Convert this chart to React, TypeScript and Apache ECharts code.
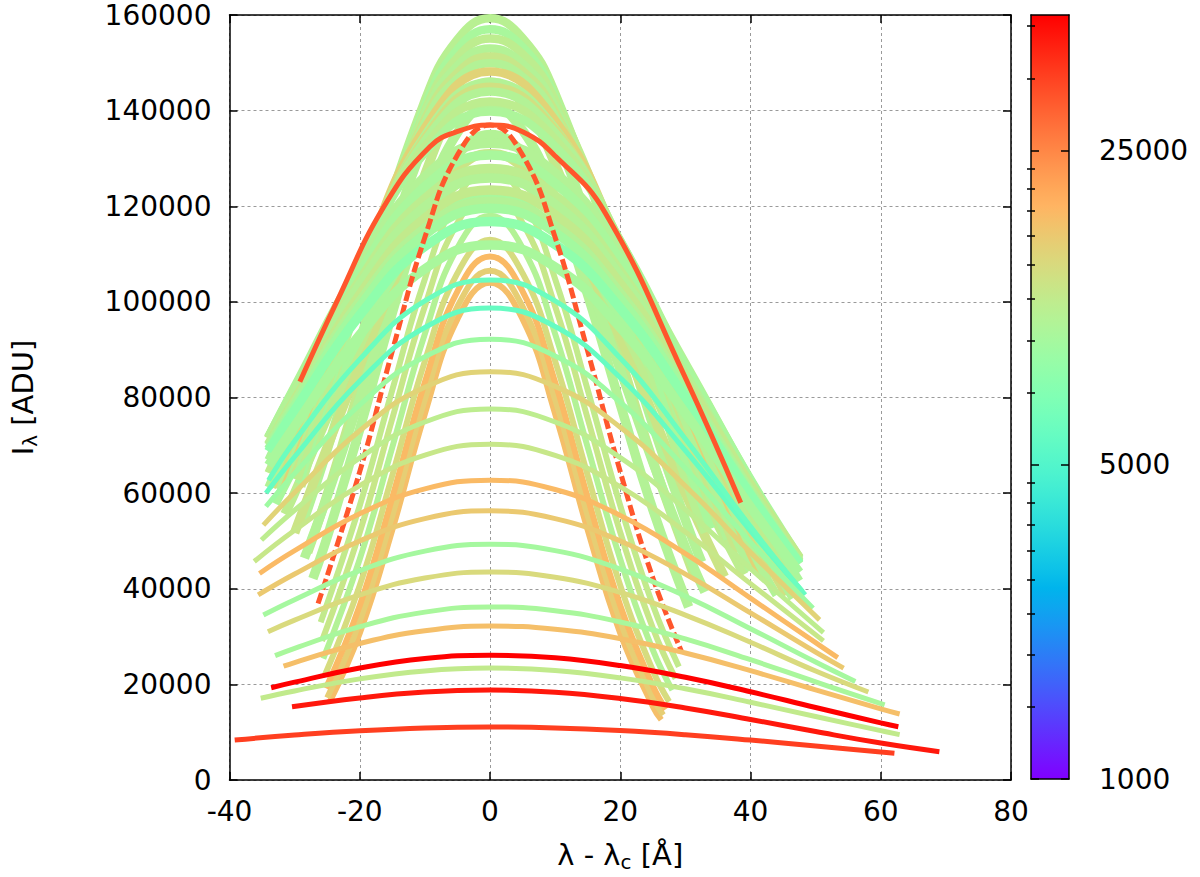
import React, { useEffect, useRef } from "react";
import * as echarts from "echarts";

// ---- axes / colour scale ----
const X_MIN = -40, X_MAX = 80, X_STEP = 20;
const Y_MIN = 0, Y_MAX = 160000, Y_STEP = 20000;
const CB_MIN = 1000, CB_MAX = 50000, CB_BASE = 5;
const colorbarLabels = [1000, 5000, 25000];
const colorbarMinorTicks = [1444, 1889, 2333, 2778, 3222, 3667, 4111, 4556, 7222, 9444, 11667, 13889, 16111, 18333, 20556, 22778, 36111, 47222];

// ---- narrow profiles (inner wedge) ----
const narrowExposure = [17400, 15500, 18100, 13700, 10500, 12200, 11800];
const narrowProfiles = [
  [[-24.6, 16400], [-20, 30700], [-15, 52300], [-10, 76600], [-5, 96400], [0, 104000], [5, 96400], [10, 76600], [15, 52300], [20, 30700], [25, 15400], [26.3, 12600]],
  [[-25, 17200], [-20, 33200], [-15, 55300], [-10, 79600], [-5, 99000], [0, 106500], [5, 99000], [10, 79600], [15, 55300], [20, 33200], [25, 17200], [26.6, 13600]],
  [[-25.2, 19200], [-20, 36500], [-15, 59100], [-10, 83200], [-5, 102200], [0, 109500], [5, 102200], [10, 83200], [15, 59100], [20, 36500], [25, 19700], [27, 14800]],
  [[-25.4, 21800], [-20, 40700], [-15, 63700], [-10, 87600], [-5, 106000], [0, 113000], [5, 106000], [10, 87600], [15, 63700], [20, 40700], [25, 22900], [27.5, 16400]],
  [[-25.6, 25400], [-20, 46200], [-15, 69600], [-10, 93300], [-5, 111300], [0, 118000], [5, 111300], [10, 93300], [15, 69600], [20, 46200], [25, 27200], [28, 18800]],
  [[-25.8, 29100], [-20, 51800], [-15, 75600], [-10, 99100], [-5, 116500], [0, 123000], [5, 116500], [10, 99100], [15, 75600], [20, 51800], [25, 31800], [28.5, 21200]],
  [[-26, 33000], [-20, 57400], [-15, 81600], [-10, 104800], [-5, 121700], [0, 128000], [5, 121700], [10, 104800], [15, 81600], [20, 57400], [25, 36600], [29, 23700]],
];

// ---- middle-width profiles ----
const middleExposure = [10500, 11800, 10500, 10500, 12600, 11300, 9700];
const middleProfiles = [
  [[-27.2, 42100], [-25, 50800], [-20, 73400], [-15, 97700], [-10, 119800], [-5, 135400], [0, 141000], [5, 135900], [10, 121800], [15, 101500], [20, 78600], [25, 56600], [30.5, 36200]],
  [[-28, 47600], [-25, 59700], [-20, 82400], [-15, 105800], [-10, 126600], [-5, 140900], [0, 146000], [5, 141500], [10, 128800], [15, 110200], [20, 88500], [25, 66800], [31.5, 42200]],
  [[-28.7, 53900], [-25, 69100], [-20, 91600], [-15, 114000], [-10, 133300], [-5, 146300], [0, 151000], [5, 146800], [10, 134800], [15, 117000], [20, 95900], [25, 74300], [30, 54400], [32.5, 45600]],
  [[-28.5, 46400], [-25, 59300], [-20, 79800], [-15, 100400], [-10, 118400], [-5, 130600], [0, 135000], [5, 131200], [10, 120500], [15, 104600], [20, 85800], [25, 66500], [30, 48700], [33, 39300]],
  [[-30, 51700], [-20, 86700], [-10, 118100], [-5, 127700], [0, 131000], [5, 128200], [10, 120100], [20, 92600], [30, 60000], [36, 42500]],
  [[-31.5, 55600], [-30, 60000], [-20, 91000], [-10, 116900], [0, 127000], [10, 118300], [20, 95500], [30, 66900], [39, 43000]],
  [[-33, 57800], [-30, 65800], [-20, 92700], [-10, 113900], [0, 122000], [10, 115200], [20, 97000], [30, 72700], [40, 48700], [43, 42200]],
];

// ---- top of the fan ----
const topExposure = [10900, 9700, 11300, 10500, 12200, 10500, 14900, 10500, 13200, 10500, 11300, 10000];
const topProfiles = [
  [[-29, 61400], [-20, 101200], [-10, 142200], [-5, 154900], [0, 159300], [5, 155200], [10, 143700], [20, 105400], [30, 62900], [33, 51700]],
  [[-29.3, 62000], [-20, 101900], [-10, 140900], [-5, 152800], [0, 157000], [5, 153300], [10, 142800], [20, 107600], [30, 67100], [34, 52600]],
  [[-29.6, 62800], [-20, 102600], [-10, 139900], [-5, 151100], [0, 155100], [5, 151800], [10, 142200], [20, 109600], [30, 71000], [35, 53600]],
  [[-30, 65300], [-20, 104800], [-10, 139200], [-5, 149400], [0, 153000], [5, 149800], [10, 140800], [20, 109600], [30, 72300], [36.5, 50400]],
  [[-31, 63400], [-20, 105300], [-10, 138200], [-5, 147900], [0, 151300], [5, 148300], [10, 139700], [20, 109900], [30, 73700], [38, 47700]],
  [[-32, 61600], [-30, 68600], [-20, 105900], [-10, 137400], [-5, 146700], [0, 149900], [5, 147100], [10, 138800], [20, 110200], [30, 75000], [40, 43800]],
  [[-32.5, 61500], [-30, 70000], [-20, 106200], [-10, 136400], [0, 148200], [10, 138000], [20, 111500], [30, 78100], [40, 47400], [42, 42200]],
  [[-33, 61100], [-30, 71100], [-20, 106000], [-10, 134800], [0, 146000], [10, 136300], [20, 111000], [30, 78800], [40, 48700], [44, 38700]],
  [[-33.5, 61200], [-30, 72600], [-20, 106600], [-10, 134300], [0, 145000], [10, 136000], [20, 112300], [30, 81700], [40, 52300], [45.5, 38700]],
  [[-34, 61200], [-30, 74000], [-20, 107100], [-10, 133700], [0, 144000], [10, 135400], [20, 112600], [30, 82800], [40, 53800], [46.5, 38000]],
  [[-34, 64200], [-30, 76500], [-20, 107900], [-10, 132500], [0, 141900], [10, 134000], [20, 112800], [30, 84600], [40, 56600], [47, 39900]],
  [[-34, 66900], [-30, 78700], [-20, 108300], [-10, 131200], [0, 139800], [10, 132500], [20, 112700], [30, 86200], [40, 59200], [47.5, 41600]],
];

// ---- broad profiles forming the flanks ----
const flankExposure = [10500, 9700, 11300, 10500, 11800, 10500, 9300, 7950, 9700];
const flankProfiles = [
  [[-34, 71600], [-30, 82100], [-20, 107400], [-10, 126200], [0, 133200], [10, 127000], [20, 110200], [30, 87000], [40, 62500], [47.5, 45800]],
  [[-34, 71600], [-30, 81800], [-20, 106100], [-10, 124100], [0, 130700], [10, 124800], [20, 108800], [30, 86500], [40, 62700], [47.5, 46400]],
  [[-34, 71400], [-30, 81300], [-20, 104500], [-10, 121600], [0, 127900], [10, 122200], [20, 106400], [30, 84600], [40, 61400], [47.5, 45400]],
  [[-34, 71600], [-30, 81100], [-20, 103600], [-10, 119900], [0, 125900], [10, 120400], [20, 105400], [30, 84300], [40, 61700], [47.5, 46100]],
  [[-34, 70200], [-30, 79500], [-20, 101500], [-10, 117500], [0, 123400], [10, 118200], [20, 103800], [30, 83600], [40, 61800], [47.5, 46500]],
  [[-34, 70000], [-30, 79000], [-20, 100100], [-10, 115400], [0, 121000], [10, 115900], [20, 101800], [30, 82000], [40, 60600], [47.5, 45600]],
  [[-34, 69200], [-30, 78100], [-20, 99000], [-10, 114100], [0, 119600], [10, 114500], [20, 100600], [30, 81000], [40, 59900], [47.5, 45100]],
  [[-34, 68700], [-30, 77300], [-20, 97200], [-10, 111600], [0, 116800], [10, 112000], [20, 98700], [30, 80000], [40, 59600], [47.5, 45300]],
  [[-34, 65800], [-30, 74000], [-20, 93100], [-10, 106900], [0, 111900], [10, 107300], [20, 94600], [30, 76700], [40, 57100], [47.5, 43400]],
];

// ---- the two red-orange profiles ----
const redExposure = 32500;
const redWideProfile = [[-29.2, 83300], [-23.4, 100400], [-16.3, 119900], [-9.2, 132500], [-4.6, 135800], [0, 137000], [5, 135600], [10.1, 130400], [17.7, 118600], [29.8, 84700], [38.5, 58000]];
const redNarrowProfile = [[-26.4, 36900], [-20, 64500], [-15, 89700], [-10, 113500], [-5, 130700], [0, 137000], [5, 130700], [10, 113500], [15, 89700], [20, 64500], [25, 42300], [29.4, 26900]];

// ---- cyan profiles ----
const cyanExposure = [5820, 6060];
const cyanProfiles = [
  [[-34.4, 60000], [-30, 67610], [-20, 83440], [-10, 94650], [0, 98700], [10, 94850], [20, 84140], [30, 68890], [40, 52110], [48.4, 38700]],
  [[-34, 62700], [-30, 70920], [-20, 87970], [-10, 100200], [0, 104600], [10, 100200], [20, 88250], [30, 71340], [40, 52990], [48, 39400]],
];

// ---- low, broad profiles ----
const lowExposure = [8950, 14900, 11300, 12200, 18100, 16100, 9400, 14000, 9700, 17400, 11700, 50000, 44400, 36600];
const lowProfiles = [
  [[-34.4, 57200], [-30, 64130], [-20, 78460], [-10, 88510], [0, 92200], [10, 88700], [20, 79020], [30, 65150], [40, 49740], [49.6, 35900]],
  [[-34.8, 53300], [-30, 60120], [-20, 73060], [-10, 82150], [0, 85400], [10, 82330], [20, 73790], [30, 61490], [40, 47610], [50.6, 33500]],
  [[-35.1, 50200], [-30, 56420], [-20, 67360], [-10, 74880], [0, 77600], [10, 74880], [20, 67430], [30, 56570], [40, 44230], [51.2, 30800]],
  [[-36.2, 45700], [-30, 52230], [-20, 61570], [-10, 67950], [0, 70200], [10, 67880], [20, 61350], [30, 51880], [40, 41070], [51.2, 29100]],
  [[-35.4, 43200], [-30, 47970], [-20, 55680], [-10, 60880], [0, 62700], [10, 60760], [20, 55330], [30, 47340], [40, 38030], [50, 28720], [53.4, 25600]],
  [[-35.6, 38700], [-30, 43070], [-20, 50000], [-10, 54670], [0, 56300], [10, 54670], [20, 50000], [30, 43070], [40, 34960], [50, 26740], [54.3, 23400]],
  [[-34.8, 34500], [-30, 37710], [-20, 43780], [-10, 47870], [0, 49300], [10, 47970], [20, 44120], [30, 38450], [40, 31650], [50, 24670], [56.1, 20600]],
  [[-34.1, 31000], [-30, 33450], [-20, 38720], [-10, 42240], [0, 43500], [10, 42410], [20, 39240], [30, 34500], [40, 28800], [50, 22790], [58.1, 18400]],
  [[-33, 26000], [-30, 27550], [-20, 32070], [-10, 35110], [0, 36200], [10, 35400], [20, 33050], [30, 29500], [40, 25160], [50, 20530], [60.6, 15700]],
  [[-31.7, 23800], [-30, 24570], [-20, 28560], [-10, 31230], [0, 32200], [10, 31520], [20, 29560], [30, 26560], [40, 22860], [50, 18840], [60, 14880], [62.9, 13800]],
  [[-35.2, 17100], [-30, 18630], [-20, 21150], [-10, 22820], [0, 23400], [10, 22880], [20, 21360], [30, 19070], [40, 16260], [50, 13270], [60, 10320], [62.9, 9500]],
  [[-33.6, 19300], [-30, 20460], [-20, 23410], [-10, 25400], [0, 26100], [10, 25550], [20, 23930], [30, 21480], [40, 18450], [50, 15160], [60, 11950], [62.7, 11150]],
  [[-30.4, 15300], [-20, 17160], [-10, 18390], [0, 18800], [10, 18350], [20, 17030], [30, 15060], [40, 12670], [50, 10130], [60, 7730], [69, 5920]],
  [[-39.2, 8370], [-30, 9400], [-20, 10310], [-10, 10900], [0, 11100], [10, 10900], [20, 10330], [30, 9460], [40, 8350], [50, 7110], [60, 5850], [62.1, 5580]],
];

// ---- helpers ----
const FONT = "DejaVu Sans";
const clamp = (v: number) => Math.max(0, Math.min(1, v));
// gnuplot rgbformulae 33,13,10
function paletteColor(t: number) {
  const tt = clamp(t);
  const r = clamp(Math.abs(2 * tt - 0.5));
  const g = clamp(Math.sin(Math.PI * tt));
  const b = clamp(Math.cos((Math.PI * tt) / 2));
  return `rgb(${Math.round(r * 255)},${Math.round(g * 255)},${Math.round(b * 255)})`;
}
const cbPos = (v: number) => Math.log(v / CB_MIN) / Math.log(CB_BASE);
const CB_TOP = cbPos(CB_MAX);
const exposureColor = (c: number) => paletteColor(cbPos(c) / CB_TOP);

function profileSeries(points: number[][], exposure: number, width: number, dashed = false) {
  return {
    type: "line",
    xAxisIndex: 0,
    yAxisIndex: 0,
    data: points,
    smooth: 0.45,
    symbol: "none",
    showSymbol: false,
    silent: true,
    lineStyle: { color: exposureColor(exposure), width, type: dashed ? [11, 4] : "solid", cap: "butt", join: "round" },
  };
}

export default function App() {
  const ref = useRef<HTMLDivElement>(null);
  useEffect(() => {
    if (!ref.current) return;
    const chart = echarts.init(ref.current, undefined, { renderer: "svg" });

    const series: any[] = [];
    narrowProfiles.forEach((p, i) => series.push(profileSeries(p, narrowExposure[i], 6)));
    middleProfiles.forEach((p, i) => series.push(profileSeries(p, middleExposure[i], 9.5)));
    topProfiles.forEach((p, i) => series.push(profileSeries(p, topExposure[i], 8.5)));
    flankProfiles.forEach((p, i) => series.push(profileSeries(p, flankExposure[i], 9.5)));
    series.push(profileSeries(redWideProfile, redExposure, 5));
    series.push(profileSeries(redNarrowProfile, redExposure, 5, true));
    cyanProfiles.forEach((p, i) => series.push(profileSeries(p, cyanExposure[i], 5)));
    lowProfiles.forEach((p, i) => series.push(profileSeries(p, lowExposure[i], 5)));

    const stops = [] as { offset: number; color: string }[];
    for (let k = 0; k <= 40; k++) stops.push({ offset: k / 40, color: paletteColor(k / 40) });
    series.push({
      type: "custom",
      xAxisIndex: 2,
      yAxisIndex: 2,
      silent: true,
      data: [[0, 0]],
      renderItem: (_p: any, api: any) => {
        const p0 = api.coord([0, 0]);
        const p1 = api.coord([1, CB_TOP]);
        return {
          type: "rect",
          shape: { x: p0[0], y: p1[1], width: p1[0] - p0[0], height: p0[1] - p1[1] },
          style: { fill: new echarts.graphic.LinearGradient(0, 1, 0, 0, stops) },
        };
      },
    });

    const black = { color: "#000", width: 1.5 };
    const labelStyle = { color: "#000", fontFamily: FONT, fontSize: 28 };
    const majorCb = colorbarLabels.map(cbPos);
    const minorCb = colorbarMinorTicks.map(cbPos);
    const cbFormatter = (v: number) => {
      const val = Math.round(CB_MIN * Math.pow(CB_BASE, v));
      return colorbarLabels.includes(val) ? String(val) : "";
    };

    chart.setOption({
      animation: false,
      textStyle: { fontFamily: FONT },
      grid: [
        { left: 224, right: 189, top: 15, bottom: 97 },
        { left: 1031, width: 38, top: 15, bottom: 98 },
      ],
      xAxis: [
        {
          type: "value", gridIndex: 0, min: X_MIN, max: X_MAX, interval: X_STEP, position: "bottom",
          axisLine: { onZero: false, lineStyle: black },
          axisTick: { inside: true, length: 8, lineStyle: black },
          axisLabel: { ...labelStyle, margin: 17 },
          splitLine: { show: true, lineStyle: { color: "#9a9a9a", width: 1, type: [3, 3] } },
          name: "{a|λ - λ}{s|c}{a| [Å]}",
          nameLocation: "middle",
          nameGap: 58,
          nameTextStyle: {
            rich: {
              a: { fontFamily: FONT, fontSize: 29, color: "#000" },
              s: { fontFamily: FONT, fontSize: 20, color: "#000", padding: [14, 0, 0, 0] },
            },
          },
        },
        {
          type: "value", gridIndex: 0, min: X_MIN, max: X_MAX, interval: X_STEP, position: "top",
          axisLine: { onZero: false, lineStyle: black },
          axisTick: { inside: true, length: 8, lineStyle: black },
          axisLabel: { show: false }, splitLine: { show: false },
        },
        {
          type: "value", gridIndex: 1, min: 0, max: 1, position: "bottom", z: 10,
          axisLine: { onZero: false, lineStyle: black }, axisTick: { show: false },
          axisLabel: { show: false }, splitLine: { show: false },
        },
        {
          type: "value", gridIndex: 1, min: 0, max: 1, position: "top", z: 10,
          axisLine: { onZero: false, lineStyle: black }, axisTick: { show: false },
          axisLabel: { show: false }, splitLine: { show: false },
        },
      ],
      yAxis: [
        {
          type: "value", gridIndex: 0, min: Y_MIN, max: Y_MAX, interval: Y_STEP, position: "left",
          axisLine: { onZero: false, lineStyle: black },
          axisTick: { inside: true, length: 8, lineStyle: black },
          axisLabel: { ...labelStyle, margin: 18, formatter: (v: number) => String(v) },
          splitLine: { show: true, lineStyle: { color: "#9a9a9a", width: 1, type: [3, 3] } },
          name: "{a|I}{s|λ}{a| [ADU]}",
          nameLocation: "middle",
          nameGap: 190,
          nameTextStyle: {
            rich: {
              a: { fontFamily: FONT, fontSize: 29, color: "#000" },
              s: { fontFamily: FONT, fontSize: 20, color: "#000", padding: [14, 0, 0, 0] },
            },
          },
        },
        {
          type: "value", gridIndex: 0, min: Y_MIN, max: Y_MAX, interval: Y_STEP, position: "right",
          axisLine: { onZero: false, lineStyle: black },
          axisTick: { inside: true, length: 8, lineStyle: black },
          axisLabel: { show: false }, splitLine: { show: false },
        },
        {
          type: "value", gridIndex: 1, min: 0, max: CB_TOP, interval: 1, position: "right", z: 10,
          axisLine: { onZero: false, lineStyle: black },
          axisTick: { inside: true, length: 8, lineStyle: black, customValues: majorCb },
          axisLabel: { ...labelStyle, margin: 30, customValues: majorCb, formatter: cbFormatter },
          splitLine: { show: false },
        },
        {
          type: "value", gridIndex: 1, min: 0, max: CB_TOP, interval: 10, position: "right", z: 10,
          axisLine: { show: false },
          axisTick: { inside: true, length: 4, lineStyle: black, customValues: minorCb },
          axisLabel: { show: false }, splitLine: { show: false },
        },
        {
          type: "value", gridIndex: 1, min: 0, max: CB_TOP, interval: 1, position: "left", z: 10,
          axisLine: { onZero: false, lineStyle: black },
          axisTick: { inside: true, length: 8, lineStyle: black, customValues: majorCb },
          axisLabel: { show: false }, splitLine: { show: false },
        },
        {
          type: "value", gridIndex: 1, min: 0, max: CB_TOP, interval: 10, position: "left", z: 10,
          axisLine: { show: false },
          axisTick: { inside: true, length: 4, lineStyle: black, customValues: minorCb },
          axisLabel: { show: false }, splitLine: { show: false },
        },
      ],
      series,
    });

    return () => chart.dispose();
  }, []);

  return (
    <div
      ref={ref}
      style={{ position: "absolute", left: 0, top: 0, width: 1200, height: 877, background: "#fff" }}
    />
  );
}
